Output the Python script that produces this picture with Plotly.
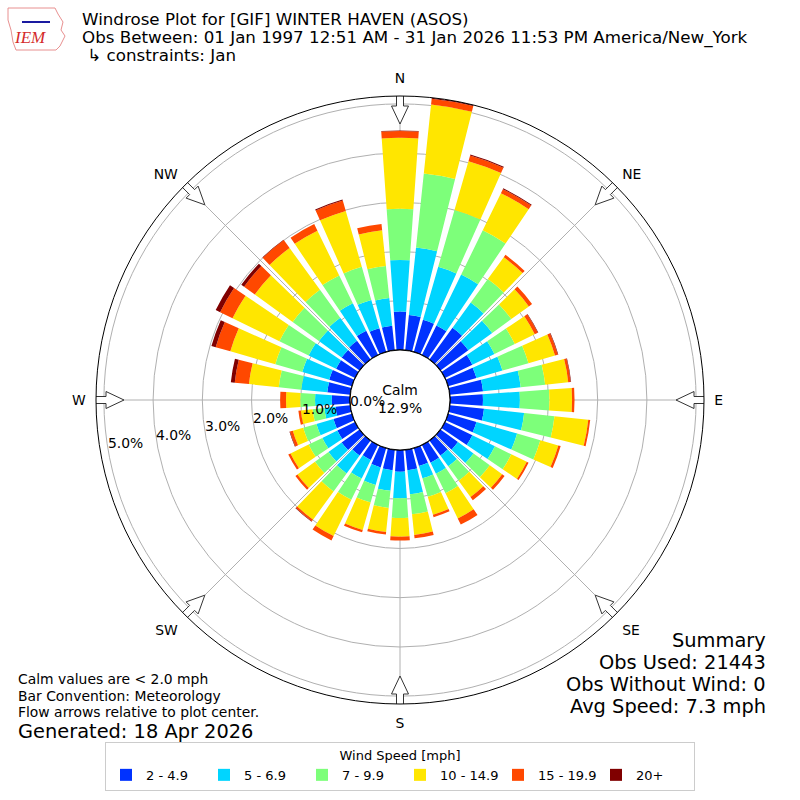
import math
import numpy as np
import plotly.graph_objects as go

# ---------------- data ----------------
directions = list(range(0, 360, 10))
speed_bins = ["2 - 4.9", "5 - 6.9", "7 - 9.9", "10 - 14.9", "15 - 19.9", "20+"]
bin_colors = ["#0032ff", "#00d5ff", "#7dff7a", "#ffe600", "#ff4800", "#800000"]

pct_2_5 = [0.78, 0.72, 0.68, 0.67, 0.80, 0.70, 0.62, 0.60, 0.68, 0.67, 0.70, 0.60,
           0.62, 0.44, 0.38, 0.40, 0.38, 0.42, 0.44, 0.42, 0.41, 0.34, 0.38, 0.45,
           0.40, 0.39, 0.30, 0.37, 0.47, 0.48, 0.43, 0.45, 0.47, 0.55, 0.50, 0.50]
pct_5_7 = [1.05, 1.38, 1.12, 1.15, 0.63, 0.60, 0.50, 0.55, 0.77, 0.75, 0.82, 0.86,
           0.51, 0.39, 0.27, 0.25, 0.26, 0.49, 0.54, 0.42, 0.37, 0.42, 0.45, 0.33,
           0.34, 0.36, 0.23, 0.34, 0.53, 0.57, 0.62, 0.57, 0.58, 0.62, 0.60, 0.57]
pct_7_10 = [1.04, 1.51, 1.20, 1.00, 0.59, 0.48, 0.46, 0.55, 0.50, 0.60, 0.62, 0.49,
            0.37, 0.41, 0.36, 0.44, 0.39, 0.41, 0.40, 0.35, 0.37, 0.48, 0.45, 0.34,
            0.31, 0.28, 0.24, 0.30, 0.46, 0.57, 0.66, 0.66, 0.70, 0.63, 0.70, 0.65]
pct_10_15 = [1.44, 1.41, 1.03, 0.84, 0.55, 0.44, 0.45, 0.56, 0.47, 0.46, 0.69, 0.38,
             0.35, 0.31, 0.41, 0.57, 0.38, 0.42, 0.38, 0.49, 0.58, 0.82, 0.71, 0.44,
             0.41, 0.22, 0.24, 0.29, 0.61, 0.95, 1.06, 0.95, 1.05, 1.01, 1.18, 0.73]
pct_15_20 = [0.14, 0.12, 0.12, 0.09, 0.06, 0.08, 0.07, 0.06, 0.05, 0.05, 0.04, 0.05,
             0.04, 0.06, 0.08, 0.14, 0.05, 0.07, 0.08, 0.05, 0.05, 0.10, 0.04, 0.05,
             0.05, 0.06, 0.05, 0.12, 0.29, 0.31, 0.28, 0.27, 0.20, 0.15, 0.22, 0.13]
pct_20_up = [0.01, 0.02, 0.02, 0.02, 0.00, 0.00, 0.01, 0.01, 0.01, 0.00, 0.00, 0.00,
             0.00, 0.00, 0.00, 0.00, 0.00, 0.00, 0.00, 0.00, 0.00, 0.00, 0.01, 0.00,
             0.00, 0.01, 0.00, 0.00, 0.08, 0.09, 0.10, 0.07, 0.01, 0.00, 0.02, 0.00]
series = [pct_2_5, pct_5_7, pct_7_10, pct_10_15, pct_15_20, pct_20_up]

compass_angles = [0, 45, 90, 135, 180, 225, 270, 315]
compass_labels = ["N", "NE", "E", "SE", "S", "SW", "W", "NW"]
radial_ticks = [0, 1, 2, 3, 4, 5]
calm_pct = 12.9

title_lines = [
    "Windrose Plot for [GIF] WINTER HAVEN (ASOS)",
    "Obs Between: 01 Jan 1997 12:51 AM - 31 Jan 2026 11:53 PM America/New_York",
    " \u21b3 constraints: Jan",
]
note_lines = ["Calm values are < 2.0 mph", "Bar Convention: Meteorology",
              "Flow arrows relative to plot center."]
generated = "Generated: 18 Apr 2026"
summary_lines = ["Summary", "Obs Used: 21443", "Obs Without Wind: 0", "Avg Speed: 7.3 mph"]

# ---------------- geometry ----------------
W = H = 800
CX = CY = 400
OUTER_PX = 304.0
HOLE_PX = 50.0
RMAX = 5.16
PX_PER = (OUTER_PX - HOLE_PX) / RMAX
FONT = "DejaVu Sans"
FS = 13.9

fig = go.Figure()

for name, vals, col in zip(speed_bins, series, bin_colors):
    fig.add_trace(go.Barpolar(
        r=vals, theta=directions, width=8, name=name,
        marker=dict(color=col, line=dict(width=0)),
        hoverinfo="skip"))

# calm circle edge
th = np.linspace(0, 360, 181)
fig.add_trace(go.Scatterpolar(r=np.zeros_like(th), theta=th, mode="lines",
                              line=dict(color="black", width=1.3),
                              showlegend=False, hoverinfo="skip"))


# flow arrows (decoration, pointing to plot center)
def arrow_polygon(direction):
    pts = [(276, 0), (294, 8.5), (294, 3.5), (308, 3.5), (308, -3.5),
           (294, -3.5), (294, -8.5), (276, 0)]
    rs, ths = [], []
    for a, l in pts:
        rp = math.hypot(a, l)
        rs.append((rp - HOLE_PX) / PX_PER)
        ths.append(direction + math.degrees(math.atan2(l, a)))
    return rs, ths


for d in compass_angles:
    rs, ths = arrow_polygon(d)
    fig.add_trace(go.Scatterpolar(r=rs, theta=ths, mode="lines", fill="toself",
                                  fillcolor="white",
                                  line=dict(color="#333333", width=1),
                                  cliponaxis=False, showlegend=False,
                                  hoverinfo="skip"))

annotations = []
# radial labels
for v in radial_ticks:
    along = HOLE_PX + v * PX_PER - 17.0
    x = CX - along * math.cos(math.radians(10))
    y = CY + along * math.sin(math.radians(10)) - 5.0
    annotations.append(dict(x=x / W, y=1 - y / H, xref="paper", yref="paper",
                            text=f"{v:.1f}%", showarrow=False,
                            font=dict(family=FONT, size=FS, color="black"),
                            xanchor="center", yanchor="middle"))
# calm text
annotations.append(dict(x=0.5, y=1 - 399 / H, xref="paper", yref="paper",
                        text=f"Calm<br>{calm_pct:.1f}%", showarrow=False,
                        font=dict(family=FONT, size=FS, color="black"),
                        xanchor="center", yanchor="middle"))
# titles
title_y = [19, 37, 55]
for t, yy in zip(title_lines, title_y):
    annotations.append(dict(x=80 / W, y=1 - yy / H, xref="paper",
                            yref="paper", text=t, showarrow=False,
                            font=dict(family=FONT, size=16.7, color="black"),
                            xanchor="left", yanchor="middle"))
# notes
note_y = [679, 695.5, 712]
for t, yy in zip(note_lines, note_y):
    annotations.append(dict(x=16 / W, y=1 - yy / H, xref="paper",
                            yref="paper", text=t, showarrow=False,
                            font=dict(family=FONT, size=FS, color="black"),
                            xanchor="left", yanchor="middle"))
annotations.append(dict(x=16 / W, y=1 - 731 / H, xref="paper", yref="paper",
                        text=generated, showarrow=False,
                        font=dict(family=FONT, size=19.4, color="black"),
                        xanchor="left", yanchor="middle"))
for i, t in enumerate(summary_lines):
    annotations.append(dict(x=768 / W, y=1 - (640 + 22 * i) / H, xref="paper",
                            yref="paper", text=t, showarrow=False,
                            font=dict(family=FONT, size=19.4, color="black"),
                            xanchor="right", yanchor="middle"))
# logo text
annotations.append(dict(x=30 / W, y=1 - 38 / H, xref="paper", yref="paper",
                        text="<i>IEM</i>", showarrow=False,
                        font=dict(family="Liberation Serif", size=17, color="#d42a2a"),
                        xanchor="center", yanchor="middle"))

# logo outline (decoration)
iowa_path = ("M 8,8 L 55,8 L 58,14 L 63,22 L 61,30 L 65,36 L 60,46 "
             "L 56,50 L 16,50 L 13,42 L 11,30 L 8,20 Z")


def to_paper_path(p):
    out = []
    for tok in p.split():
        if "," in tok:
            a, b = tok.split(",")
            out.append(f"{float(a) / W:.5f},{1 - float(b) / H:.5f}")
        else:
            out.append(tok)
    return " ".join(out)


shapes = [
    dict(type="path", xref="paper", yref="paper", path=to_paper_path(iowa_path),
         line=dict(color="#e89090", width=1)),
    dict(type="line", xref="paper", yref="paper", x0=22 / W, x1=50 / W,
         y0=1 - 22 / H, y1=1 - 22 / H, line=dict(color="#1a1aa0", width=2)),
]

fig.update_layout(
    width=W, height=H,
    margin=dict(l=0, r=0, t=0, b=0),
    paper_bgcolor="white",
    font=dict(family=FONT, color="black"),
    annotations=annotations,
    shapes=shapes,
    polar=dict(
        domain=dict(x=[(CX - OUTER_PX) / W, (CX + OUTER_PX) / W],
                    y=[(CY - OUTER_PX) / H, (CY + OUTER_PX) / H]),
        hole=HOLE_PX / OUTER_PX,
        bgcolor="white",
        barmode="stack",
        radialaxis=dict(range=[0, RMAX], tickvals=radial_ticks[1:],
                        showticklabels=False, ticks="", showline=False,
                        gridcolor="#b0b0b0", gridwidth=1, layer="above traces"),
        angularaxis=dict(direction="clockwise", rotation=90,
                         tickmode="array", tickvals=compass_angles,
                         ticktext=compass_labels, ticks="outside", ticklen=7,
                         tickcolor="rgba(0,0,0,0)",
                         showline=True, linecolor="black", linewidth=1,
                         gridcolor="#b0b0b0", gridwidth=1,
                         tickfont=dict(family=FONT, size=FS, color="black"),
                         layer="above traces"),
    ),
    legend=dict(
        orientation="h", x=0.5, xanchor="center", y=1 - 742 / H, yanchor="top",
        bordercolor="#cccccc", borderwidth=1, bgcolor="white",
        font=dict(family=FONT, size=13, color="black"),
        title=dict(text="Wind Speed [mph]", side="top center",
                   font=dict(family=FONT, size=13)),
        entrywidth=53, entrywidthmode="pixels", itemwidth=30,
        traceorder="normal",
    ),
)

fig.write_html("out.html",
               config={"displayModeBar": False},
               post_script="document.body.style.margin='0px';"
                           "document.body.style.overflow='hidden';")
